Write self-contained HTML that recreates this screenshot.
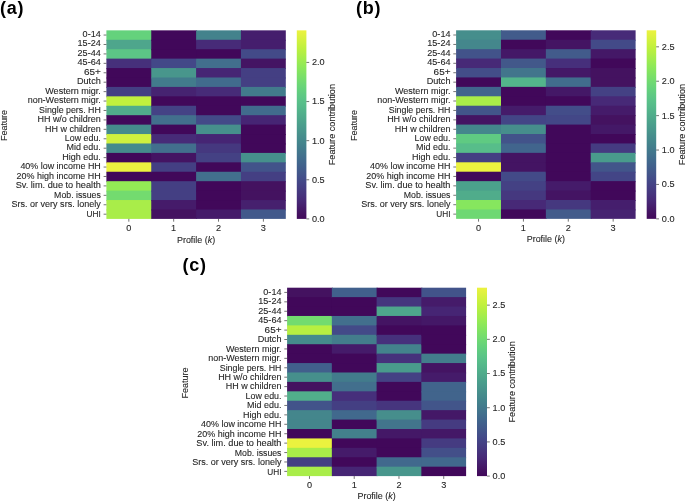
<!DOCTYPE html>
<html><head><meta charset="utf-8"><title>Feature contribution heatmaps</title>
<style>html,body{margin:0;padding:0;background:#fff;width:685px;height:501px;overflow:hidden}svg{display:block;will-change:transform}text{font-family:"Liberation Sans",sans-serif;stroke:#262626;stroke-width:0.1px}</style>
</head><body>
<svg width="685" height="501" viewBox="0 0 685 501" font-family="Liberation Sans, sans-serif" fill="#262626">
<defs><linearGradient id="vir" x1="0" y1="0" x2="0" y2="1"><stop offset="0.0000" stop-color="#ecf23f"/><stop offset="0.0312" stop-color="#ddf13f"/><stop offset="0.0625" stop-color="#cef13e"/><stop offset="0.0938" stop-color="#bff03e"/><stop offset="0.1250" stop-color="#b0ee45"/><stop offset="0.1562" stop-color="#a0ec4e"/><stop offset="0.1875" stop-color="#90e957"/><stop offset="0.2188" stop-color="#83e460"/><stop offset="0.2500" stop-color="#78de6a"/><stop offset="0.2812" stop-color="#6dd874"/><stop offset="0.3125" stop-color="#64d17c"/><stop offset="0.3438" stop-color="#5ec983"/><stop offset="0.3750" stop-color="#59c189"/><stop offset="0.4062" stop-color="#55b98a"/><stop offset="0.4375" stop-color="#51b08b"/><stop offset="0.4688" stop-color="#4ea78b"/><stop offset="0.5000" stop-color="#4a9e8c"/><stop offset="0.5312" stop-color="#48968c"/><stop offset="0.5625" stop-color="#468d8c"/><stop offset="0.5938" stop-color="#43858c"/><stop offset="0.6250" stop-color="#427c8c"/><stop offset="0.6562" stop-color="#42738d"/><stop offset="0.6875" stop-color="#416a8d"/><stop offset="0.7188" stop-color="#41618c"/><stop offset="0.7500" stop-color="#42588a"/><stop offset="0.7812" stop-color="#434e89"/><stop offset="0.8125" stop-color="#444486"/><stop offset="0.8438" stop-color="#453b81"/><stop offset="0.8750" stop-color="#46327c"/><stop offset="0.9062" stop-color="#472876"/><stop offset="0.9375" stop-color="#451d6b"/><stop offset="0.9688" stop-color="#441261"/><stop offset="1.0000" stop-color="#41085a"/></linearGradient></defs>
<rect width="685" height="501" fill="#fff"/>
<rect x="106.40" y="30.35" width="45.85" height="10.43" fill="#64d27c"/>
<rect x="106.40" y="39.78" width="45.85" height="10.43" fill="#4ea68c"/>
<rect x="106.40" y="49.20" width="45.85" height="10.43" fill="#5cc586"/>
<rect x="106.40" y="58.63" width="45.85" height="10.43" fill="#46307b"/>
<rect x="106.40" y="68.06" width="45.85" height="10.43" fill="#41085a"/>
<rect x="106.40" y="77.49" width="45.85" height="10.43" fill="#41085a"/>
<rect x="106.40" y="86.91" width="45.85" height="10.43" fill="#443f83"/>
<rect x="106.40" y="96.34" width="45.85" height="10.43" fill="#c1f03e"/>
<rect x="106.40" y="105.77" width="45.85" height="10.43" fill="#50ac8b"/>
<rect x="106.40" y="115.20" width="45.85" height="10.43" fill="#41085a"/>
<rect x="106.40" y="124.62" width="45.85" height="10.43" fill="#458b8c"/>
<rect x="106.40" y="134.05" width="45.85" height="10.43" fill="#cff13e"/>
<rect x="106.40" y="143.48" width="45.85" height="10.43" fill="#458b8c"/>
<rect x="106.40" y="152.91" width="45.85" height="10.43" fill="#41085a"/>
<rect x="106.40" y="162.34" width="45.85" height="10.43" fill="#ecf23f"/>
<rect x="106.40" y="171.76" width="45.85" height="10.43" fill="#41085a"/>
<rect x="106.40" y="181.19" width="45.85" height="10.43" fill="#93ea55"/>
<rect x="106.40" y="190.62" width="45.85" height="10.43" fill="#73db6f"/>
<rect x="106.40" y="200.04" width="45.85" height="10.43" fill="#a9ed49"/>
<rect x="106.40" y="209.47" width="45.85" height="9.43" fill="#a9ed49"/>
<rect x="151.25" y="30.35" width="45.85" height="10.43" fill="#41085a"/>
<rect x="151.25" y="39.78" width="45.85" height="10.43" fill="#41085a"/>
<rect x="151.25" y="49.20" width="45.85" height="10.43" fill="#41085a"/>
<rect x="151.25" y="58.63" width="45.85" height="10.43" fill="#434888"/>
<rect x="151.25" y="68.06" width="45.85" height="10.43" fill="#48968c"/>
<rect x="151.25" y="77.49" width="45.85" height="10.43" fill="#427b8c"/>
<rect x="151.25" y="86.91" width="45.85" height="10.43" fill="#462371"/>
<rect x="151.25" y="96.34" width="45.85" height="10.43" fill="#41085a"/>
<rect x="151.25" y="105.77" width="45.85" height="10.43" fill="#444285"/>
<rect x="151.25" y="115.20" width="45.85" height="10.43" fill="#426f8d"/>
<rect x="151.25" y="124.62" width="45.85" height="10.43" fill="#41085a"/>
<rect x="151.25" y="134.05" width="45.85" height="10.43" fill="#472b78"/>
<rect x="151.25" y="143.48" width="45.85" height="10.43" fill="#426f8d"/>
<rect x="151.25" y="152.91" width="45.85" height="10.43" fill="#441463"/>
<rect x="151.25" y="162.34" width="45.85" height="10.43" fill="#443f83"/>
<rect x="151.25" y="171.76" width="45.85" height="10.43" fill="#41085a"/>
<rect x="151.25" y="181.19" width="45.85" height="10.43" fill="#443f83"/>
<rect x="151.25" y="190.62" width="45.85" height="10.43" fill="#443f83"/>
<rect x="151.25" y="200.04" width="45.85" height="10.43" fill="#451b6a"/>
<rect x="151.25" y="209.47" width="45.85" height="9.43" fill="#441260"/>
<rect x="196.10" y="30.35" width="45.85" height="10.43" fill="#43828c"/>
<rect x="196.10" y="39.78" width="45.85" height="10.43" fill="#472b78"/>
<rect x="196.10" y="49.20" width="45.85" height="10.43" fill="#41085a"/>
<rect x="196.10" y="58.63" width="45.85" height="10.43" fill="#426f8d"/>
<rect x="196.10" y="68.06" width="45.85" height="10.43" fill="#462574"/>
<rect x="196.10" y="77.49" width="45.85" height="10.43" fill="#416b8d"/>
<rect x="196.10" y="86.91" width="45.85" height="10.43" fill="#472b78"/>
<rect x="196.10" y="96.34" width="45.85" height="10.43" fill="#41085a"/>
<rect x="196.10" y="105.77" width="45.85" height="10.43" fill="#41085a"/>
<rect x="196.10" y="115.20" width="45.85" height="10.43" fill="#434a88"/>
<rect x="196.10" y="124.62" width="45.85" height="10.43" fill="#46908c"/>
<rect x="196.10" y="134.05" width="45.85" height="10.43" fill="#462574"/>
<rect x="196.10" y="143.48" width="45.85" height="10.43" fill="#45387f"/>
<rect x="196.10" y="152.91" width="45.85" height="10.43" fill="#444184"/>
<rect x="196.10" y="162.34" width="45.85" height="10.43" fill="#41085a"/>
<rect x="196.10" y="171.76" width="45.85" height="10.43" fill="#426f8d"/>
<rect x="196.10" y="181.19" width="45.85" height="10.43" fill="#41085a"/>
<rect x="196.10" y="190.62" width="45.85" height="10.43" fill="#41085a"/>
<rect x="196.10" y="200.04" width="45.85" height="10.43" fill="#41085a"/>
<rect x="196.10" y="209.47" width="45.85" height="9.43" fill="#451b6a"/>
<rect x="240.95" y="30.35" width="44.85" height="10.43" fill="#451e6d"/>
<rect x="240.95" y="39.78" width="44.85" height="10.43" fill="#451e6d"/>
<rect x="240.95" y="49.20" width="44.85" height="10.43" fill="#434a88"/>
<rect x="240.95" y="58.63" width="44.85" height="10.43" fill="#441463"/>
<rect x="240.95" y="68.06" width="44.85" height="10.43" fill="#443f83"/>
<rect x="240.95" y="77.49" width="44.85" height="10.43" fill="#443f83"/>
<rect x="240.95" y="86.91" width="44.85" height="10.43" fill="#427b8c"/>
<rect x="240.95" y="96.34" width="44.85" height="10.43" fill="#41085a"/>
<rect x="240.95" y="105.77" width="44.85" height="10.43" fill="#416b8d"/>
<rect x="240.95" y="115.20" width="44.85" height="10.43" fill="#462574"/>
<rect x="240.95" y="124.62" width="44.85" height="10.43" fill="#41085a"/>
<rect x="240.95" y="134.05" width="44.85" height="10.43" fill="#41085a"/>
<rect x="240.95" y="143.48" width="44.85" height="10.43" fill="#41085a"/>
<rect x="240.95" y="152.91" width="44.85" height="10.43" fill="#46908c"/>
<rect x="240.95" y="162.34" width="44.85" height="10.43" fill="#42538a"/>
<rect x="240.95" y="171.76" width="44.85" height="10.43" fill="#443f83"/>
<rect x="240.95" y="181.19" width="44.85" height="10.43" fill="#441260"/>
<rect x="240.95" y="190.62" width="44.85" height="10.43" fill="#441260"/>
<rect x="240.95" y="200.04" width="44.85" height="10.43" fill="#46206e"/>
<rect x="240.95" y="209.47" width="44.85" height="9.43" fill="#42598b"/>
<line x1="103.60" y1="35.06" x2="106.40" y2="35.06" stroke="#262626" stroke-width="0.64"/>
<text x="100.80" y="36.96" text-anchor="end" font-size="8.5" textLength="18.16" lengthAdjust="spacingAndGlyphs">0-14</text>
<line x1="103.60" y1="44.49" x2="106.40" y2="44.49" stroke="#262626" stroke-width="0.64"/>
<text x="100.80" y="46.42" text-anchor="end" font-size="8.5" textLength="23.25" lengthAdjust="spacingAndGlyphs">15-24</text>
<line x1="103.60" y1="53.92" x2="106.40" y2="53.92" stroke="#262626" stroke-width="0.64"/>
<text x="100.80" y="55.88" text-anchor="end" font-size="8.5" textLength="23.25" lengthAdjust="spacingAndGlyphs">25-44</text>
<line x1="103.60" y1="63.35" x2="106.40" y2="63.35" stroke="#262626" stroke-width="0.64"/>
<text x="100.80" y="65.34" text-anchor="end" font-size="8.5" textLength="23.25" lengthAdjust="spacingAndGlyphs">45-64</text>
<line x1="103.60" y1="72.77" x2="106.40" y2="72.77" stroke="#262626" stroke-width="0.64"/>
<text x="100.80" y="74.80" text-anchor="end" font-size="8.5" textLength="16.88" lengthAdjust="spacingAndGlyphs">65+</text>
<line x1="103.60" y1="82.20" x2="106.40" y2="82.20" stroke="#262626" stroke-width="0.64"/>
<text x="100.80" y="84.26" text-anchor="end" font-size="8.5" textLength="23.84" lengthAdjust="spacingAndGlyphs">Dutch</text>
<line x1="103.60" y1="91.63" x2="106.40" y2="91.63" stroke="#262626" stroke-width="0.64"/>
<text x="100.80" y="93.72" text-anchor="end" font-size="8.5" textLength="55.54" lengthAdjust="spacingAndGlyphs">Western migr.</text>
<line x1="103.60" y1="101.06" x2="106.40" y2="101.06" stroke="#262626" stroke-width="0.64"/>
<text x="100.80" y="103.18" text-anchor="end" font-size="8.5" textLength="73.14" lengthAdjust="spacingAndGlyphs">non-Western migr.</text>
<line x1="103.60" y1="110.48" x2="106.40" y2="110.48" stroke="#262626" stroke-width="0.64"/>
<text x="100.80" y="112.64" text-anchor="end" font-size="8.5" textLength="61.71" lengthAdjust="spacingAndGlyphs">Single pers. HH</text>
<line x1="103.60" y1="119.91" x2="106.40" y2="119.91" stroke="#262626" stroke-width="0.64"/>
<text x="100.80" y="122.10" text-anchor="end" font-size="8.5" textLength="63.35" lengthAdjust="spacingAndGlyphs">HH w/o children</text>
<line x1="103.60" y1="129.34" x2="106.40" y2="129.34" stroke="#262626" stroke-width="0.64"/>
<text x="100.80" y="131.56" text-anchor="end" font-size="8.5" textLength="55.76" lengthAdjust="spacingAndGlyphs">HH w children</text>
<line x1="103.60" y1="138.77" x2="106.40" y2="138.77" stroke="#262626" stroke-width="0.64"/>
<text x="100.80" y="141.02" text-anchor="end" font-size="8.5" textLength="35.91" lengthAdjust="spacingAndGlyphs">Low edu.</text>
<line x1="103.60" y1="148.19" x2="106.40" y2="148.19" stroke="#262626" stroke-width="0.64"/>
<text x="100.80" y="150.48" text-anchor="end" font-size="8.5" textLength="34.36" lengthAdjust="spacingAndGlyphs">Mid edu.</text>
<line x1="103.60" y1="157.62" x2="106.40" y2="157.62" stroke="#262626" stroke-width="0.64"/>
<text x="100.80" y="159.94" text-anchor="end" font-size="8.5" textLength="38.54" lengthAdjust="spacingAndGlyphs">High edu.</text>
<line x1="103.60" y1="167.05" x2="106.40" y2="167.05" stroke="#262626" stroke-width="0.64"/>
<text x="100.80" y="169.40" text-anchor="end" font-size="8.5" textLength="80.40" lengthAdjust="spacingAndGlyphs">40% low income HH</text>
<line x1="103.60" y1="176.48" x2="106.40" y2="176.48" stroke="#262626" stroke-width="0.64"/>
<text x="100.80" y="178.86" text-anchor="end" font-size="8.5" textLength="84.18" lengthAdjust="spacingAndGlyphs">20% high income HH</text>
<line x1="103.60" y1="185.90" x2="106.40" y2="185.90" stroke="#262626" stroke-width="0.64"/>
<text x="100.80" y="188.32" text-anchor="end" font-size="8.5" textLength="85.11" lengthAdjust="spacingAndGlyphs">Sv. lim. due to health</text>
<line x1="103.60" y1="195.33" x2="106.40" y2="195.33" stroke="#262626" stroke-width="0.64"/>
<text x="100.80" y="197.78" text-anchor="end" font-size="8.5" textLength="46.68" lengthAdjust="spacingAndGlyphs">Mob. issues</text>
<line x1="103.60" y1="204.76" x2="106.40" y2="204.76" stroke="#262626" stroke-width="0.64"/>
<text x="100.80" y="207.23" text-anchor="end" font-size="8.5" textLength="89.35" lengthAdjust="spacingAndGlyphs">Srs. or very srs. lonely</text>
<line x1="103.60" y1="214.19" x2="106.40" y2="214.19" stroke="#262626" stroke-width="0.64"/>
<text x="100.80" y="216.69" text-anchor="end" font-size="8.5" textLength="14.23" lengthAdjust="spacingAndGlyphs">UHI</text>
<line x1="128.83" y1="218.90" x2="128.83" y2="221.70" stroke="#262626" stroke-width="0.64"/>
<text x="128.83" y="230.90" text-anchor="middle" font-size="8.5" textLength="5.09" lengthAdjust="spacingAndGlyphs">0</text>
<line x1="173.68" y1="218.90" x2="173.68" y2="221.70" stroke="#262626" stroke-width="0.64"/>
<text x="173.68" y="230.90" text-anchor="middle" font-size="8.5" textLength="5.09" lengthAdjust="spacingAndGlyphs">1</text>
<line x1="218.53" y1="218.90" x2="218.53" y2="221.70" stroke="#262626" stroke-width="0.64"/>
<text x="218.53" y="230.90" text-anchor="middle" font-size="8.5" textLength="5.09" lengthAdjust="spacingAndGlyphs">2</text>
<line x1="263.38" y1="218.90" x2="263.38" y2="221.70" stroke="#262626" stroke-width="0.64"/>
<text x="263.38" y="230.90" text-anchor="middle" font-size="8.5" textLength="5.09" lengthAdjust="spacingAndGlyphs">3</text>
<text x="196.10" y="242.50" text-anchor="middle" font-size="8.5" textLength="38.29" lengthAdjust="spacingAndGlyphs">Profile (<tspan font-style="italic">k</tspan>)</text>
<text transform="translate(7.10,125.62) rotate(-90)" x="0" y="0" text-anchor="middle" font-size="8.5" textLength="31.03" lengthAdjust="spacingAndGlyphs">Feature</text>
<rect x="296.80" y="30.35" width="9.60" height="188.55" fill="url(#vir)"/>
<line x1="306.40" y1="218.90" x2="309.20" y2="218.90" stroke="#262626" stroke-width="0.64"/>
<text x="312.00" y="221.80" text-anchor="start" font-size="8.5" textLength="12.72" lengthAdjust="spacingAndGlyphs">0.0</text>
<line x1="306.40" y1="179.78" x2="309.20" y2="179.78" stroke="#262626" stroke-width="0.64"/>
<text x="312.00" y="182.68" text-anchor="start" font-size="8.5" textLength="12.72" lengthAdjust="spacingAndGlyphs">0.5</text>
<line x1="306.40" y1="140.66" x2="309.20" y2="140.66" stroke="#262626" stroke-width="0.64"/>
<text x="312.00" y="143.56" text-anchor="start" font-size="8.5" textLength="12.72" lengthAdjust="spacingAndGlyphs">1.0</text>
<line x1="306.40" y1="101.55" x2="309.20" y2="101.55" stroke="#262626" stroke-width="0.64"/>
<text x="312.00" y="104.45" text-anchor="start" font-size="8.5" textLength="12.72" lengthAdjust="spacingAndGlyphs">1.5</text>
<line x1="306.40" y1="62.43" x2="309.20" y2="62.43" stroke="#262626" stroke-width="0.64"/>
<text x="312.00" y="65.33" text-anchor="start" font-size="8.5" textLength="12.72" lengthAdjust="spacingAndGlyphs">2.0</text>
<text transform="translate(334.85,124.62) rotate(-90)" x="0" y="0" text-anchor="middle" font-size="8.5" textLength="81.26" lengthAdjust="spacingAndGlyphs">Feature contribution</text>
<text x="0.00" y="13.95" font-size="18" font-weight="bold" fill="#000" letter-spacing="0.75" style="stroke:none">(a)</text>
<rect x="456.10" y="30.30" width="45.88" height="10.43" fill="#468e8c"/>
<rect x="456.10" y="39.73" width="45.88" height="10.43" fill="#44878c"/>
<rect x="456.10" y="49.16" width="45.88" height="10.43" fill="#42538a"/>
<rect x="456.10" y="58.58" width="45.88" height="10.43" fill="#472977"/>
<rect x="456.10" y="68.01" width="45.88" height="10.43" fill="#434d89"/>
<rect x="456.10" y="77.44" width="45.88" height="10.43" fill="#41085a"/>
<rect x="456.10" y="86.86" width="45.88" height="10.43" fill="#41658d"/>
<rect x="456.10" y="96.29" width="45.88" height="10.43" fill="#a9ed49"/>
<rect x="456.10" y="105.72" width="45.88" height="10.43" fill="#42558a"/>
<rect x="456.10" y="115.15" width="45.88" height="10.43" fill="#441463"/>
<rect x="456.10" y="124.58" width="45.88" height="10.43" fill="#44868c"/>
<rect x="456.10" y="134.00" width="45.88" height="10.43" fill="#5fca82"/>
<rect x="456.10" y="143.43" width="45.88" height="10.43" fill="#57bd8a"/>
<rect x="456.10" y="152.86" width="45.88" height="10.43" fill="#443f83"/>
<rect x="456.10" y="162.29" width="45.88" height="10.43" fill="#ecf23f"/>
<rect x="456.10" y="171.71" width="45.88" height="10.43" fill="#41085a"/>
<rect x="456.10" y="181.14" width="45.88" height="10.43" fill="#4ba18c"/>
<rect x="456.10" y="190.57" width="45.88" height="10.43" fill="#50ac8b"/>
<rect x="456.10" y="200.00" width="45.88" height="10.43" fill="#86e65e"/>
<rect x="456.10" y="209.42" width="45.88" height="9.43" fill="#6ed873"/>
<rect x="500.98" y="30.30" width="45.88" height="10.43" fill="#425b8b"/>
<rect x="500.98" y="39.73" width="45.88" height="10.43" fill="#41085a"/>
<rect x="500.98" y="49.16" width="45.88" height="10.43" fill="#441867"/>
<rect x="500.98" y="58.58" width="45.88" height="10.43" fill="#42588a"/>
<rect x="500.98" y="68.01" width="45.88" height="10.43" fill="#42758c"/>
<rect x="500.98" y="77.44" width="45.88" height="10.43" fill="#53b58b"/>
<rect x="500.98" y="86.86" width="45.88" height="10.43" fill="#41085a"/>
<rect x="500.98" y="96.29" width="45.88" height="10.43" fill="#41085a"/>
<rect x="500.98" y="105.72" width="45.88" height="10.43" fill="#451b6a"/>
<rect x="500.98" y="115.15" width="45.88" height="10.43" fill="#434586"/>
<rect x="500.98" y="124.58" width="45.88" height="10.43" fill="#468e8c"/>
<rect x="500.98" y="134.00" width="45.88" height="10.43" fill="#42538a"/>
<rect x="500.98" y="143.43" width="45.88" height="10.43" fill="#41658d"/>
<rect x="500.98" y="152.86" width="45.88" height="10.43" fill="#441463"/>
<rect x="500.98" y="162.29" width="45.88" height="10.43" fill="#441463"/>
<rect x="500.98" y="171.71" width="45.88" height="10.43" fill="#434a88"/>
<rect x="500.98" y="181.14" width="45.88" height="10.43" fill="#444184"/>
<rect x="500.98" y="190.57" width="45.88" height="10.43" fill="#45387f"/>
<rect x="500.98" y="200.00" width="45.88" height="10.43" fill="#472977"/>
<rect x="500.98" y="209.42" width="45.88" height="9.43" fill="#41085a"/>
<rect x="545.85" y="30.30" width="45.88" height="10.43" fill="#41085a"/>
<rect x="545.85" y="39.73" width="45.88" height="10.43" fill="#441463"/>
<rect x="545.85" y="49.16" width="45.88" height="10.43" fill="#425b8b"/>
<rect x="545.85" y="58.58" width="45.88" height="10.43" fill="#462f7b"/>
<rect x="545.85" y="68.01" width="45.88" height="10.43" fill="#441867"/>
<rect x="545.85" y="77.44" width="45.88" height="10.43" fill="#416d8d"/>
<rect x="545.85" y="86.86" width="45.88" height="10.43" fill="#441867"/>
<rect x="545.85" y="96.29" width="45.88" height="10.43" fill="#41085a"/>
<rect x="545.85" y="105.72" width="45.88" height="10.43" fill="#434d89"/>
<rect x="545.85" y="115.15" width="45.88" height="10.43" fill="#434787"/>
<rect x="545.85" y="124.58" width="45.88" height="10.43" fill="#41085a"/>
<rect x="545.85" y="134.00" width="45.88" height="10.43" fill="#41085a"/>
<rect x="545.85" y="143.43" width="45.88" height="10.43" fill="#41085a"/>
<rect x="545.85" y="152.86" width="45.88" height="10.43" fill="#41085a"/>
<rect x="545.85" y="162.29" width="45.88" height="10.43" fill="#41085a"/>
<rect x="545.85" y="171.71" width="45.88" height="10.43" fill="#41085a"/>
<rect x="545.85" y="181.14" width="45.88" height="10.43" fill="#451b6a"/>
<rect x="545.85" y="190.57" width="45.88" height="10.43" fill="#441463"/>
<rect x="545.85" y="200.00" width="45.88" height="10.43" fill="#45387f"/>
<rect x="545.85" y="209.42" width="45.88" height="9.43" fill="#425b8b"/>
<rect x="590.73" y="30.30" width="44.88" height="10.43" fill="#472b78"/>
<rect x="590.73" y="39.73" width="44.88" height="10.43" fill="#434a88"/>
<rect x="590.73" y="49.16" width="44.88" height="10.43" fill="#441867"/>
<rect x="590.73" y="58.58" width="44.88" height="10.43" fill="#41085a"/>
<rect x="590.73" y="68.01" width="44.88" height="10.43" fill="#441260"/>
<rect x="590.73" y="77.44" width="44.88" height="10.43" fill="#441260"/>
<rect x="590.73" y="86.86" width="44.88" height="10.43" fill="#444184"/>
<rect x="590.73" y="96.29" width="44.88" height="10.43" fill="#472977"/>
<rect x="590.73" y="105.72" width="44.88" height="10.43" fill="#451b6a"/>
<rect x="590.73" y="115.15" width="44.88" height="10.43" fill="#441260"/>
<rect x="590.73" y="124.58" width="44.88" height="10.43" fill="#441867"/>
<rect x="590.73" y="134.00" width="44.88" height="10.43" fill="#41085a"/>
<rect x="590.73" y="143.43" width="44.88" height="10.43" fill="#453b81"/>
<rect x="590.73" y="152.86" width="44.88" height="10.43" fill="#499b8c"/>
<rect x="590.73" y="162.29" width="44.88" height="10.43" fill="#42558a"/>
<rect x="590.73" y="171.71" width="44.88" height="10.43" fill="#434586"/>
<rect x="590.73" y="181.14" width="44.88" height="10.43" fill="#41085a"/>
<rect x="590.73" y="190.57" width="44.88" height="10.43" fill="#41085a"/>
<rect x="590.73" y="200.00" width="44.88" height="10.43" fill="#451e6d"/>
<rect x="590.73" y="209.42" width="44.88" height="9.43" fill="#462371"/>
<line x1="453.30" y1="35.01" x2="456.10" y2="35.01" stroke="#262626" stroke-width="0.64"/>
<text x="450.50" y="36.91" text-anchor="end" font-size="8.5" textLength="18.16" lengthAdjust="spacingAndGlyphs">0-14</text>
<line x1="453.30" y1="44.44" x2="456.10" y2="44.44" stroke="#262626" stroke-width="0.64"/>
<text x="450.50" y="46.37" text-anchor="end" font-size="8.5" textLength="23.25" lengthAdjust="spacingAndGlyphs">15-24</text>
<line x1="453.30" y1="53.87" x2="456.10" y2="53.87" stroke="#262626" stroke-width="0.64"/>
<text x="450.50" y="55.83" text-anchor="end" font-size="8.5" textLength="23.25" lengthAdjust="spacingAndGlyphs">25-44</text>
<line x1="453.30" y1="63.30" x2="456.10" y2="63.30" stroke="#262626" stroke-width="0.64"/>
<text x="450.50" y="65.29" text-anchor="end" font-size="8.5" textLength="23.25" lengthAdjust="spacingAndGlyphs">45-64</text>
<line x1="453.30" y1="72.72" x2="456.10" y2="72.72" stroke="#262626" stroke-width="0.64"/>
<text x="450.50" y="74.75" text-anchor="end" font-size="8.5" textLength="16.88" lengthAdjust="spacingAndGlyphs">65+</text>
<line x1="453.30" y1="82.15" x2="456.10" y2="82.15" stroke="#262626" stroke-width="0.64"/>
<text x="450.50" y="84.21" text-anchor="end" font-size="8.5" textLength="23.84" lengthAdjust="spacingAndGlyphs">Dutch</text>
<line x1="453.30" y1="91.58" x2="456.10" y2="91.58" stroke="#262626" stroke-width="0.64"/>
<text x="450.50" y="93.67" text-anchor="end" font-size="8.5" textLength="55.54" lengthAdjust="spacingAndGlyphs">Western migr.</text>
<line x1="453.30" y1="101.01" x2="456.10" y2="101.01" stroke="#262626" stroke-width="0.64"/>
<text x="450.50" y="103.13" text-anchor="end" font-size="8.5" textLength="73.14" lengthAdjust="spacingAndGlyphs">non-Western migr.</text>
<line x1="453.30" y1="110.43" x2="456.10" y2="110.43" stroke="#262626" stroke-width="0.64"/>
<text x="450.50" y="112.59" text-anchor="end" font-size="8.5" textLength="61.71" lengthAdjust="spacingAndGlyphs">Single pers. HH</text>
<line x1="453.30" y1="119.86" x2="456.10" y2="119.86" stroke="#262626" stroke-width="0.64"/>
<text x="450.50" y="122.05" text-anchor="end" font-size="8.5" textLength="63.35" lengthAdjust="spacingAndGlyphs">HH w/o children</text>
<line x1="453.30" y1="129.29" x2="456.10" y2="129.29" stroke="#262626" stroke-width="0.64"/>
<text x="450.50" y="131.51" text-anchor="end" font-size="8.5" textLength="55.76" lengthAdjust="spacingAndGlyphs">HH w children</text>
<line x1="453.30" y1="138.72" x2="456.10" y2="138.72" stroke="#262626" stroke-width="0.64"/>
<text x="450.50" y="140.97" text-anchor="end" font-size="8.5" textLength="35.91" lengthAdjust="spacingAndGlyphs">Low edu.</text>
<line x1="453.30" y1="148.14" x2="456.10" y2="148.14" stroke="#262626" stroke-width="0.64"/>
<text x="450.50" y="150.43" text-anchor="end" font-size="8.5" textLength="34.36" lengthAdjust="spacingAndGlyphs">Mid edu.</text>
<line x1="453.30" y1="157.57" x2="456.10" y2="157.57" stroke="#262626" stroke-width="0.64"/>
<text x="450.50" y="159.89" text-anchor="end" font-size="8.5" textLength="38.54" lengthAdjust="spacingAndGlyphs">High edu.</text>
<line x1="453.30" y1="167.00" x2="456.10" y2="167.00" stroke="#262626" stroke-width="0.64"/>
<text x="450.50" y="169.35" text-anchor="end" font-size="8.5" textLength="80.40" lengthAdjust="spacingAndGlyphs">40% low income HH</text>
<line x1="453.30" y1="176.43" x2="456.10" y2="176.43" stroke="#262626" stroke-width="0.64"/>
<text x="450.50" y="178.81" text-anchor="end" font-size="8.5" textLength="84.18" lengthAdjust="spacingAndGlyphs">20% high income HH</text>
<line x1="453.30" y1="185.85" x2="456.10" y2="185.85" stroke="#262626" stroke-width="0.64"/>
<text x="450.50" y="188.27" text-anchor="end" font-size="8.5" textLength="85.11" lengthAdjust="spacingAndGlyphs">Sv. lim. due to health</text>
<line x1="453.30" y1="195.28" x2="456.10" y2="195.28" stroke="#262626" stroke-width="0.64"/>
<text x="450.50" y="197.73" text-anchor="end" font-size="8.5" textLength="46.68" lengthAdjust="spacingAndGlyphs">Mob. issues</text>
<line x1="453.30" y1="204.71" x2="456.10" y2="204.71" stroke="#262626" stroke-width="0.64"/>
<text x="450.50" y="207.18" text-anchor="end" font-size="8.5" textLength="89.35" lengthAdjust="spacingAndGlyphs">Srs. or very srs. lonely</text>
<line x1="453.30" y1="214.14" x2="456.10" y2="214.14" stroke="#262626" stroke-width="0.64"/>
<text x="450.50" y="216.64" text-anchor="end" font-size="8.5" textLength="14.23" lengthAdjust="spacingAndGlyphs">UHI</text>
<line x1="478.54" y1="218.85" x2="478.54" y2="221.65" stroke="#262626" stroke-width="0.64"/>
<text x="478.54" y="230.85" text-anchor="middle" font-size="8.5" textLength="5.09" lengthAdjust="spacingAndGlyphs">0</text>
<line x1="523.41" y1="218.85" x2="523.41" y2="221.65" stroke="#262626" stroke-width="0.64"/>
<text x="523.41" y="230.85" text-anchor="middle" font-size="8.5" textLength="5.09" lengthAdjust="spacingAndGlyphs">1</text>
<line x1="568.29" y1="218.85" x2="568.29" y2="221.65" stroke="#262626" stroke-width="0.64"/>
<text x="568.29" y="230.85" text-anchor="middle" font-size="8.5" textLength="5.09" lengthAdjust="spacingAndGlyphs">2</text>
<line x1="613.16" y1="218.85" x2="613.16" y2="221.65" stroke="#262626" stroke-width="0.64"/>
<text x="613.16" y="230.85" text-anchor="middle" font-size="8.5" textLength="5.09" lengthAdjust="spacingAndGlyphs">3</text>
<text x="545.85" y="242.45" text-anchor="middle" font-size="8.5" textLength="38.29" lengthAdjust="spacingAndGlyphs">Profile (<tspan font-style="italic">k</tspan>)</text>
<text transform="translate(356.80,125.58) rotate(-90)" x="0" y="0" text-anchor="middle" font-size="8.5" textLength="31.03" lengthAdjust="spacingAndGlyphs">Feature</text>
<rect x="646.70" y="30.30" width="9.50" height="188.55" fill="url(#vir)"/>
<line x1="656.20" y1="218.85" x2="659.00" y2="218.85" stroke="#262626" stroke-width="0.64"/>
<text x="661.80" y="221.75" text-anchor="start" font-size="8.5" textLength="12.72" lengthAdjust="spacingAndGlyphs">0.0</text>
<line x1="656.20" y1="184.44" x2="659.00" y2="184.44" stroke="#262626" stroke-width="0.64"/>
<text x="661.80" y="187.34" text-anchor="start" font-size="8.5" textLength="12.72" lengthAdjust="spacingAndGlyphs">0.5</text>
<line x1="656.20" y1="150.04" x2="659.00" y2="150.04" stroke="#262626" stroke-width="0.64"/>
<text x="661.80" y="152.94" text-anchor="start" font-size="8.5" textLength="12.72" lengthAdjust="spacingAndGlyphs">1.0</text>
<line x1="656.20" y1="115.63" x2="659.00" y2="115.63" stroke="#262626" stroke-width="0.64"/>
<text x="661.80" y="118.53" text-anchor="start" font-size="8.5" textLength="12.72" lengthAdjust="spacingAndGlyphs">1.5</text>
<line x1="656.20" y1="81.22" x2="659.00" y2="81.22" stroke="#262626" stroke-width="0.64"/>
<text x="661.80" y="84.12" text-anchor="start" font-size="8.5" textLength="12.72" lengthAdjust="spacingAndGlyphs">2.0</text>
<line x1="656.20" y1="46.82" x2="659.00" y2="46.82" stroke="#262626" stroke-width="0.64"/>
<text x="661.80" y="49.72" text-anchor="start" font-size="8.5" textLength="12.72" lengthAdjust="spacingAndGlyphs">2.5</text>
<text transform="translate(684.60,124.58) rotate(-90)" x="0" y="0" text-anchor="middle" font-size="8.5" textLength="81.26" lengthAdjust="spacingAndGlyphs">Feature contribution</text>
<text x="356.10" y="13.95" font-size="18" font-weight="bold" fill="#000" letter-spacing="0.75" style="stroke:none">(b)</text>
<rect x="287.10" y="287.70" width="45.75" height="10.42" fill="#441260"/>
<rect x="287.10" y="297.12" width="45.75" height="10.42" fill="#41085a"/>
<rect x="287.10" y="306.54" width="45.75" height="10.42" fill="#41085a"/>
<rect x="287.10" y="315.96" width="45.75" height="10.42" fill="#73db6f"/>
<rect x="287.10" y="325.38" width="45.75" height="10.42" fill="#b7ef41"/>
<rect x="287.10" y="334.80" width="45.75" height="10.42" fill="#458b8c"/>
<rect x="287.10" y="344.22" width="45.75" height="10.42" fill="#41085a"/>
<rect x="287.10" y="353.64" width="45.75" height="10.42" fill="#41085a"/>
<rect x="287.10" y="363.06" width="45.75" height="10.42" fill="#41608c"/>
<rect x="287.10" y="372.48" width="45.75" height="10.42" fill="#46908c"/>
<rect x="287.10" y="381.90" width="45.75" height="10.42" fill="#441260"/>
<rect x="287.10" y="391.32" width="45.75" height="10.42" fill="#51af8b"/>
<rect x="287.10" y="400.74" width="45.75" height="10.42" fill="#42538a"/>
<rect x="287.10" y="410.16" width="45.75" height="10.42" fill="#44868c"/>
<rect x="287.10" y="419.58" width="45.75" height="10.42" fill="#44868c"/>
<rect x="287.10" y="429.00" width="45.75" height="10.42" fill="#41085a"/>
<rect x="287.10" y="438.42" width="45.75" height="10.42" fill="#ebf23f"/>
<rect x="287.10" y="447.84" width="45.75" height="10.42" fill="#a9ed49"/>
<rect x="287.10" y="457.26" width="45.75" height="10.42" fill="#443f83"/>
<rect x="287.10" y="466.68" width="45.75" height="9.42" fill="#a9ed49"/>
<rect x="331.85" y="287.70" width="45.75" height="10.42" fill="#41608c"/>
<rect x="331.85" y="297.12" width="45.75" height="10.42" fill="#41085a"/>
<rect x="331.85" y="306.54" width="45.75" height="10.42" fill="#41085a"/>
<rect x="331.85" y="315.96" width="45.75" height="10.42" fill="#426f8d"/>
<rect x="331.85" y="325.38" width="45.75" height="10.42" fill="#434a88"/>
<rect x="331.85" y="334.80" width="45.75" height="10.42" fill="#437d8c"/>
<rect x="331.85" y="344.22" width="45.75" height="10.42" fill="#451b6a"/>
<rect x="331.85" y="353.64" width="45.75" height="10.42" fill="#41085a"/>
<rect x="331.85" y="363.06" width="45.75" height="10.42" fill="#41085a"/>
<rect x="331.85" y="372.48" width="45.75" height="10.42" fill="#427b8c"/>
<rect x="331.85" y="381.90" width="45.75" height="10.42" fill="#426f8d"/>
<rect x="331.85" y="391.32" width="45.75" height="10.42" fill="#462f7b"/>
<rect x="331.85" y="400.74" width="45.75" height="10.42" fill="#443f83"/>
<rect x="331.85" y="410.16" width="45.75" height="10.42" fill="#41698d"/>
<rect x="331.85" y="419.58" width="45.75" height="10.42" fill="#41085a"/>
<rect x="331.85" y="429.00" width="45.75" height="10.42" fill="#43808c"/>
<rect x="331.85" y="438.42" width="45.75" height="10.42" fill="#41085a"/>
<rect x="331.85" y="447.84" width="45.75" height="10.42" fill="#451b6a"/>
<rect x="331.85" y="457.26" width="45.75" height="10.42" fill="#41085a"/>
<rect x="331.85" y="466.68" width="45.75" height="9.42" fill="#462574"/>
<rect x="376.60" y="287.70" width="45.75" height="10.42" fill="#41085a"/>
<rect x="376.60" y="297.12" width="45.75" height="10.42" fill="#45367e"/>
<rect x="376.60" y="306.54" width="45.75" height="10.42" fill="#4ea68c"/>
<rect x="376.60" y="315.96" width="45.75" height="10.42" fill="#441463"/>
<rect x="376.60" y="325.38" width="45.75" height="10.42" fill="#41085a"/>
<rect x="376.60" y="334.80" width="45.75" height="10.42" fill="#46317c"/>
<rect x="376.60" y="344.22" width="45.75" height="10.42" fill="#43838c"/>
<rect x="376.60" y="353.64" width="45.75" height="10.42" fill="#46317c"/>
<rect x="376.60" y="363.06" width="45.75" height="10.42" fill="#499b8c"/>
<rect x="376.60" y="372.48" width="45.75" height="10.42" fill="#444184"/>
<rect x="376.60" y="381.90" width="45.75" height="10.42" fill="#41085a"/>
<rect x="376.60" y="391.32" width="45.75" height="10.42" fill="#41085a"/>
<rect x="376.60" y="400.74" width="45.75" height="10.42" fill="#46357e"/>
<rect x="376.60" y="410.16" width="45.75" height="10.42" fill="#468e8c"/>
<rect x="376.60" y="419.58" width="45.75" height="10.42" fill="#42758c"/>
<rect x="376.60" y="429.00" width="45.75" height="10.42" fill="#441867"/>
<rect x="376.60" y="438.42" width="45.75" height="10.42" fill="#41085a"/>
<rect x="376.60" y="447.84" width="45.75" height="10.42" fill="#41085a"/>
<rect x="376.60" y="457.26" width="45.75" height="10.42" fill="#41698d"/>
<rect x="376.60" y="466.68" width="45.75" height="9.42" fill="#48968c"/>
<rect x="421.35" y="287.70" width="44.75" height="10.42" fill="#42538a"/>
<rect x="421.35" y="297.12" width="44.75" height="10.42" fill="#451b6a"/>
<rect x="421.35" y="306.54" width="44.75" height="10.42" fill="#462574"/>
<rect x="421.35" y="315.96" width="44.75" height="10.42" fill="#441867"/>
<rect x="421.35" y="325.38" width="44.75" height="10.42" fill="#41085a"/>
<rect x="421.35" y="334.80" width="44.75" height="10.42" fill="#41085a"/>
<rect x="421.35" y="344.22" width="44.75" height="10.42" fill="#41085a"/>
<rect x="421.35" y="353.64" width="44.75" height="10.42" fill="#437d8c"/>
<rect x="421.35" y="363.06" width="44.75" height="10.42" fill="#441463"/>
<rect x="421.35" y="372.48" width="44.75" height="10.42" fill="#451b6a"/>
<rect x="421.35" y="381.90" width="44.75" height="10.42" fill="#41648c"/>
<rect x="421.35" y="391.32" width="44.75" height="10.42" fill="#41648c"/>
<rect x="421.35" y="400.74" width="44.75" height="10.42" fill="#42558a"/>
<rect x="421.35" y="410.16" width="44.75" height="10.42" fill="#441867"/>
<rect x="421.35" y="419.58" width="44.75" height="10.42" fill="#453b81"/>
<rect x="421.35" y="429.00" width="44.75" height="10.42" fill="#441867"/>
<rect x="421.35" y="438.42" width="44.75" height="10.42" fill="#453b81"/>
<rect x="421.35" y="447.84" width="44.75" height="10.42" fill="#434f89"/>
<rect x="421.35" y="457.26" width="44.75" height="10.42" fill="#41698d"/>
<rect x="421.35" y="466.68" width="44.75" height="9.42" fill="#41085a"/>
<line x1="284.30" y1="292.41" x2="287.10" y2="292.41" stroke="#262626" stroke-width="0.64"/>
<text x="281.50" y="294.91" text-anchor="end" font-size="8.5" textLength="18.16" lengthAdjust="spacingAndGlyphs">0-14</text>
<line x1="284.30" y1="301.83" x2="287.10" y2="301.83" stroke="#262626" stroke-width="0.64"/>
<text x="281.50" y="304.36" text-anchor="end" font-size="8.5" textLength="23.25" lengthAdjust="spacingAndGlyphs">15-24</text>
<line x1="284.30" y1="311.25" x2="287.10" y2="311.25" stroke="#262626" stroke-width="0.64"/>
<text x="281.50" y="313.81" text-anchor="end" font-size="8.5" textLength="23.25" lengthAdjust="spacingAndGlyphs">25-44</text>
<line x1="284.30" y1="320.67" x2="287.10" y2="320.67" stroke="#262626" stroke-width="0.64"/>
<text x="281.50" y="323.27" text-anchor="end" font-size="8.5" textLength="23.25" lengthAdjust="spacingAndGlyphs">45-64</text>
<line x1="284.30" y1="330.09" x2="287.10" y2="330.09" stroke="#262626" stroke-width="0.64"/>
<text x="281.50" y="332.72" text-anchor="end" font-size="8.5" textLength="16.88" lengthAdjust="spacingAndGlyphs">65+</text>
<line x1="284.30" y1="339.51" x2="287.10" y2="339.51" stroke="#262626" stroke-width="0.64"/>
<text x="281.50" y="342.17" text-anchor="end" font-size="8.5" textLength="23.84" lengthAdjust="spacingAndGlyphs">Dutch</text>
<line x1="284.30" y1="348.93" x2="287.10" y2="348.93" stroke="#262626" stroke-width="0.64"/>
<text x="281.50" y="351.62" text-anchor="end" font-size="8.5" textLength="55.54" lengthAdjust="spacingAndGlyphs">Western migr.</text>
<line x1="284.30" y1="358.35" x2="287.10" y2="358.35" stroke="#262626" stroke-width="0.64"/>
<text x="281.50" y="361.07" text-anchor="end" font-size="8.5" textLength="73.14" lengthAdjust="spacingAndGlyphs">non-Western migr.</text>
<line x1="284.30" y1="367.77" x2="287.10" y2="367.77" stroke="#262626" stroke-width="0.64"/>
<text x="281.50" y="370.53" text-anchor="end" font-size="8.5" textLength="61.71" lengthAdjust="spacingAndGlyphs">Single pers. HH</text>
<line x1="284.30" y1="377.19" x2="287.10" y2="377.19" stroke="#262626" stroke-width="0.64"/>
<text x="281.50" y="379.98" text-anchor="end" font-size="8.5" textLength="63.35" lengthAdjust="spacingAndGlyphs">HH w/o children</text>
<line x1="284.30" y1="386.61" x2="287.10" y2="386.61" stroke="#262626" stroke-width="0.64"/>
<text x="281.50" y="389.43" text-anchor="end" font-size="8.5" textLength="55.76" lengthAdjust="spacingAndGlyphs">HH w children</text>
<line x1="284.30" y1="396.03" x2="287.10" y2="396.03" stroke="#262626" stroke-width="0.64"/>
<text x="281.50" y="398.88" text-anchor="end" font-size="8.5" textLength="35.91" lengthAdjust="spacingAndGlyphs">Low edu.</text>
<line x1="284.30" y1="405.45" x2="287.10" y2="405.45" stroke="#262626" stroke-width="0.64"/>
<text x="281.50" y="408.33" text-anchor="end" font-size="8.5" textLength="34.36" lengthAdjust="spacingAndGlyphs">Mid edu.</text>
<line x1="284.30" y1="414.87" x2="287.10" y2="414.87" stroke="#262626" stroke-width="0.64"/>
<text x="281.50" y="417.79" text-anchor="end" font-size="8.5" textLength="38.54" lengthAdjust="spacingAndGlyphs">High edu.</text>
<line x1="284.30" y1="424.29" x2="287.10" y2="424.29" stroke="#262626" stroke-width="0.64"/>
<text x="281.50" y="427.24" text-anchor="end" font-size="8.5" textLength="80.40" lengthAdjust="spacingAndGlyphs">40% low income HH</text>
<line x1="284.30" y1="433.71" x2="287.10" y2="433.71" stroke="#262626" stroke-width="0.64"/>
<text x="281.50" y="436.69" text-anchor="end" font-size="8.5" textLength="84.18" lengthAdjust="spacingAndGlyphs">20% high income HH</text>
<line x1="284.30" y1="443.13" x2="287.10" y2="443.13" stroke="#262626" stroke-width="0.64"/>
<text x="281.50" y="446.14" text-anchor="end" font-size="8.5" textLength="85.11" lengthAdjust="spacingAndGlyphs">Sv. lim. due to health</text>
<line x1="284.30" y1="452.55" x2="287.10" y2="452.55" stroke="#262626" stroke-width="0.64"/>
<text x="281.50" y="455.59" text-anchor="end" font-size="8.5" textLength="46.68" lengthAdjust="spacingAndGlyphs">Mob. issues</text>
<line x1="284.30" y1="461.97" x2="287.10" y2="461.97" stroke="#262626" stroke-width="0.64"/>
<text x="281.50" y="465.05" text-anchor="end" font-size="8.5" textLength="89.35" lengthAdjust="spacingAndGlyphs">Srs. or very srs. lonely</text>
<line x1="284.30" y1="471.39" x2="287.10" y2="471.39" stroke="#262626" stroke-width="0.64"/>
<text x="281.50" y="474.50" text-anchor="end" font-size="8.5" textLength="14.23" lengthAdjust="spacingAndGlyphs">UHI</text>
<line x1="309.48" y1="476.10" x2="309.48" y2="478.90" stroke="#262626" stroke-width="0.64"/>
<text x="309.48" y="488.10" text-anchor="middle" font-size="8.5" textLength="5.09" lengthAdjust="spacingAndGlyphs">0</text>
<line x1="354.23" y1="476.10" x2="354.23" y2="478.90" stroke="#262626" stroke-width="0.64"/>
<text x="354.23" y="488.10" text-anchor="middle" font-size="8.5" textLength="5.09" lengthAdjust="spacingAndGlyphs">1</text>
<line x1="398.98" y1="476.10" x2="398.98" y2="478.90" stroke="#262626" stroke-width="0.64"/>
<text x="398.98" y="488.10" text-anchor="middle" font-size="8.5" textLength="5.09" lengthAdjust="spacingAndGlyphs">2</text>
<line x1="443.73" y1="476.10" x2="443.73" y2="478.90" stroke="#262626" stroke-width="0.64"/>
<text x="443.73" y="488.10" text-anchor="middle" font-size="8.5" textLength="5.09" lengthAdjust="spacingAndGlyphs">3</text>
<text x="376.60" y="499.00" text-anchor="middle" font-size="8.5" textLength="38.29" lengthAdjust="spacingAndGlyphs">Profile (<tspan font-style="italic">k</tspan>)</text>
<text transform="translate(187.80,382.90) rotate(-90)" x="0" y="0" text-anchor="middle" font-size="8.5" textLength="31.03" lengthAdjust="spacingAndGlyphs">Feature</text>
<rect x="477.00" y="287.70" width="10.00" height="188.40" fill="url(#vir)"/>
<line x1="487.00" y1="476.10" x2="489.80" y2="476.10" stroke="#262626" stroke-width="0.64"/>
<text x="492.60" y="479.00" text-anchor="start" font-size="8.5" textLength="12.72" lengthAdjust="spacingAndGlyphs">0.0</text>
<line x1="487.00" y1="441.91" x2="489.80" y2="441.91" stroke="#262626" stroke-width="0.64"/>
<text x="492.60" y="444.81" text-anchor="start" font-size="8.5" textLength="12.72" lengthAdjust="spacingAndGlyphs">0.5</text>
<line x1="487.00" y1="407.72" x2="489.80" y2="407.72" stroke="#262626" stroke-width="0.64"/>
<text x="492.60" y="410.62" text-anchor="start" font-size="8.5" textLength="12.72" lengthAdjust="spacingAndGlyphs">1.0</text>
<line x1="487.00" y1="373.52" x2="489.80" y2="373.52" stroke="#262626" stroke-width="0.64"/>
<text x="492.60" y="376.42" text-anchor="start" font-size="8.5" textLength="12.72" lengthAdjust="spacingAndGlyphs">1.5</text>
<line x1="487.00" y1="339.33" x2="489.80" y2="339.33" stroke="#262626" stroke-width="0.64"/>
<text x="492.60" y="342.23" text-anchor="start" font-size="8.5" textLength="12.72" lengthAdjust="spacingAndGlyphs">2.0</text>
<line x1="487.00" y1="305.14" x2="489.80" y2="305.14" stroke="#262626" stroke-width="0.64"/>
<text x="492.60" y="308.04" text-anchor="start" font-size="8.5" textLength="12.72" lengthAdjust="spacingAndGlyphs">2.5</text>
<text transform="translate(515.00,381.90) rotate(-90)" x="0" y="0" text-anchor="middle" font-size="8.5" textLength="81.26" lengthAdjust="spacingAndGlyphs">Feature contribution</text>
<text x="182.50" y="270.95" font-size="18" font-weight="bold" fill="#000" letter-spacing="0.75" style="stroke:none">(c)</text>
</svg>
</body></html>
